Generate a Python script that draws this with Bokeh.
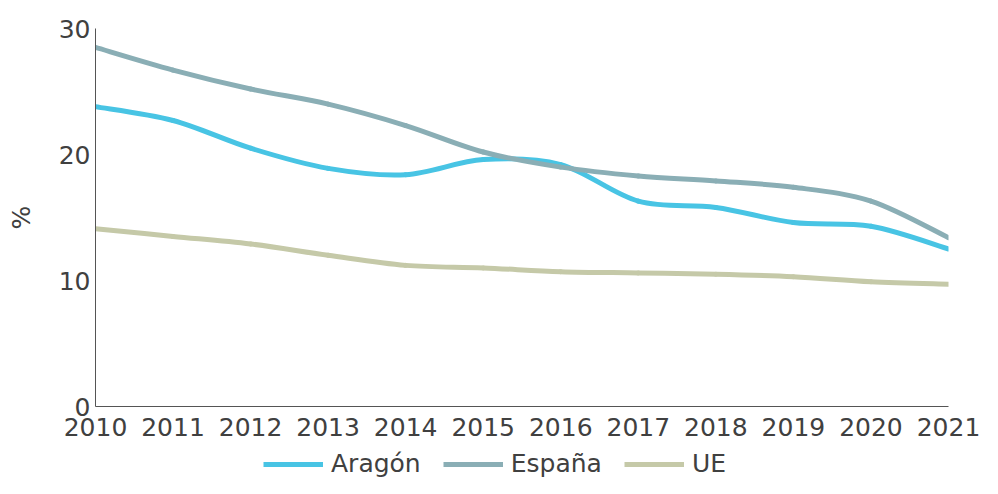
from bokeh.plotting import figure
from bokeh.layouts import column
from bokeh.models import Legend, LegendItem, FixedTicker, Range1d, ColumnDataSource
from bokeh.embed import file_html
from bokeh.resources import INLINE

years = [2010, 2011, 2012, 2013, 2014, 2015, 2016, 2017, 2018, 2019, 2020, 2021]
aragon = [23.8, 22.7, 20.5, 18.9, 18.4, 19.6, 19.2, 16.3, 15.8, 14.6, 14.3, 12.5]
espana = [28.5, 26.7, 25.2, 24.0, 22.3, 20.2, 19.0, 18.3, 17.9, 17.4, 16.3, 13.4]
ue = [14.1, 13.5, 12.9, 12.0, 11.2, 11.0, 10.7, 10.6, 10.5, 10.3, 9.9, 9.7]
y_ticks = [0, 10, 20, 30]

series = [("Aragón", aragon, "#48C4E4"), ("España", espana, "#8AAEB5"), ("UE", ue, "#C5C9A8")]

FONT = "DejaVu Sans"
TXT = "#404040"
FS = "25px"

p = figure(width=982, height=446, output_backend="svg", toolbar_location=None,
           x_range=Range1d(2010, 2021), y_range=Range1d(0, 30),
           min_border_left=95, min_border_right=34, min_border_top=28, min_border_bottom=40)
p.outline_line_color = None
p.xgrid.grid_line_color = None
p.ygrid.grid_line_color = None
p.background_fill_color = "white"
p.border_fill_color = "white"


def bezier_segments(xs, ys):
    n = len(xs)
    out = dict(x0=[], y0=[], x1=[], y1=[], cx0=[], cy0=[], cx1=[], cy1=[])
    for i in range(n - 1):
        xm, ym = (xs[i - 1], ys[i - 1]) if i > 0 else (xs[i], ys[i])
        xp, yp = (xs[i + 2], ys[i + 2]) if i + 2 < n else (xs[i + 1], ys[i + 1])
        out["x0"].append(xs[i]); out["y0"].append(ys[i])
        out["x1"].append(xs[i + 1]); out["y1"].append(ys[i + 1])
        out["cx0"].append(xs[i] + (xs[i + 1] - xm) / 6.0)
        out["cy0"].append(ys[i] + (ys[i + 1] - ym) / 6.0)
        out["cx1"].append(xs[i + 1] - (xp - xs[i]) / 6.0)
        out["cy1"].append(ys[i + 1] - (yp - ys[i]) / 6.0)
    return out


for name, vals, color in series:
    src = ColumnDataSource(bezier_segments(years, vals))
    p.bezier(x0="x0", y0="y0", x1="x1", y1="y1", cx0="cx0", cy0="cy0", cx1="cx1", cy1="cy1",
             source=src, line_color=color, line_width=5, line_cap="round")

p.xaxis.ticker = FixedTicker(ticks=years)
p.yaxis.ticker = FixedTicker(ticks=y_ticks)
for ax in (p.xaxis[0], p.yaxis[0]):
    ax.major_tick_in = 0
    ax.major_tick_out = 0
    ax.minor_tick_in = 0
    ax.minor_tick_out = 0
    ax.axis_line_color = "#555555"
    ax.axis_line_width = 1
    ax.major_label_text_font = FONT
    ax.major_label_text_font_size = FS
    ax.major_label_text_color = TXT
p.xaxis.major_label_standoff = 11
p.yaxis.major_label_standoff = 5
p.yaxis.axis_label = "%"
p.yaxis.axis_label_text_font = FONT
p.yaxis.axis_label_text_font_size = FS
p.yaxis.axis_label_text_font_style = "normal"
p.yaxis.axis_label_text_color = TXT
p.yaxis.axis_label_standoff = 20

# legend strip below the chart
lg = figure(width=982, height=32, output_backend="svg", toolbar_location=None,
            x_range=Range1d(2010, 2021), y_range=Range1d(100, 101),
            x_axis_location=None, y_axis_location=None, min_border=0)
lg.outline_line_color = None
lg.xgrid.grid_line_color = None
lg.ygrid.grid_line_color = None
items = []
for name, vals, color in series:
    r = lg.line(x=years, y=vals, line_color=color, line_width=5)
    items.append(LegendItem(label=name, renderers=[r]))

legend = Legend(items=items, orientation="horizontal", location=(168, 0),
                label_text_font=FONT, label_text_font_size=FS, label_text_color=TXT,
                glyph_width=60, glyph_height=20, label_standoff=8, spacing=22,
                padding=0, margin=0, border_line_color=None, background_fill_alpha=0)
lg.add_layout(legend, "center")

layout = column(p, lg, spacing=0)
open("out.html", "w").write(file_html(layout, INLINE))
